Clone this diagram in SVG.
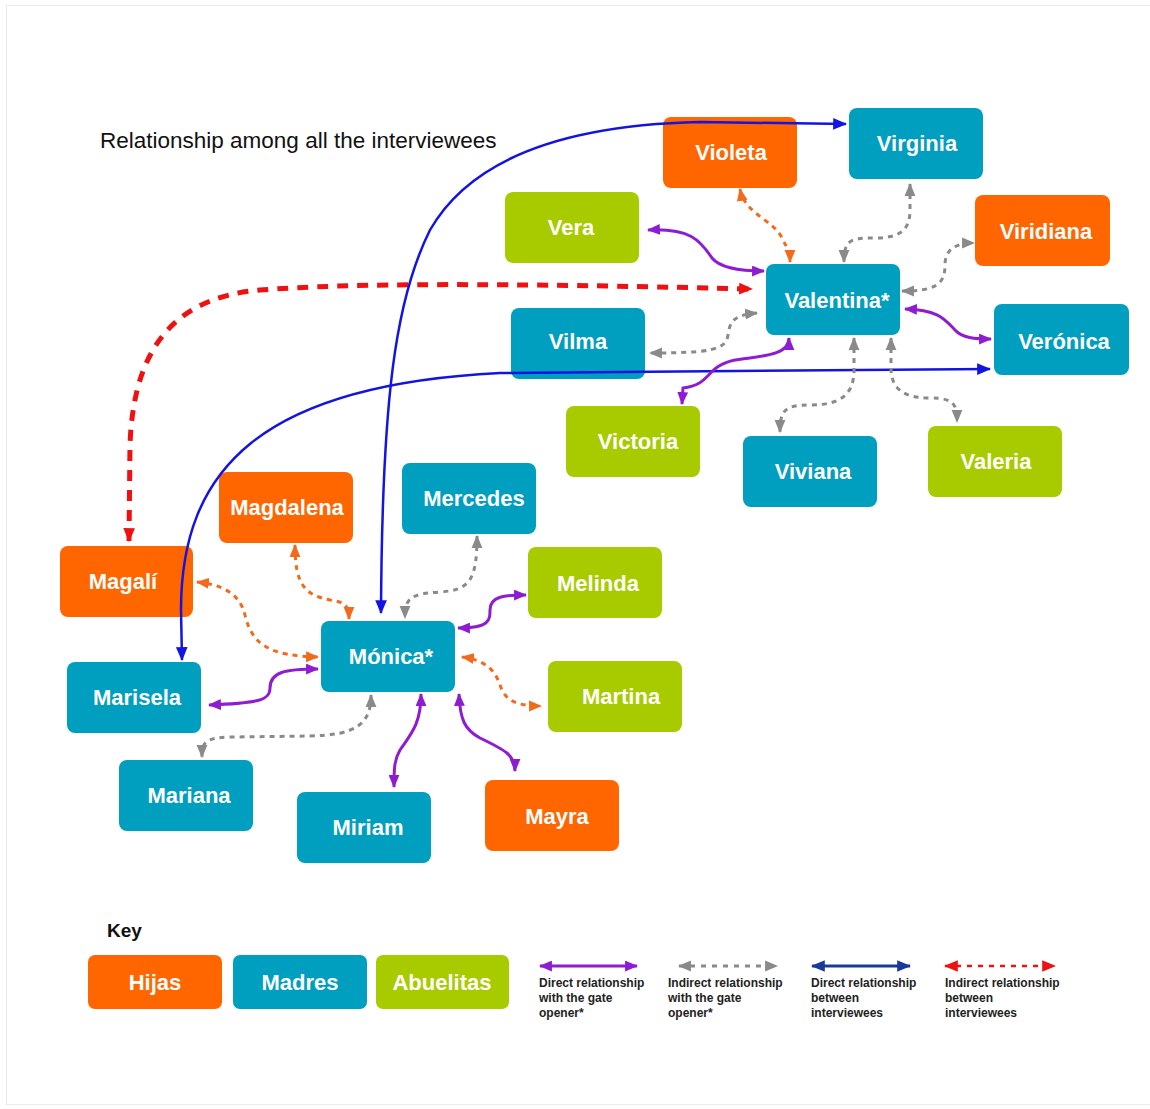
<svg xmlns="http://www.w3.org/2000/svg" width="1150" height="1109" viewBox="0 0 1150 1109">
<style>
.box{stroke:none}
.h{fill:#FF6600}
.m{fill:#009EBF}
.a{fill:#A8CB00}
.lb{font-family:"Liberation Sans",Arial,sans-serif;font-weight:bold;font-size:22px;fill:#fff;text-anchor:middle}
.lg{font-family:"Liberation Sans",Arial,sans-serif;font-weight:bold;font-size:12px;fill:#222}
.c{fill:none}
.pu{stroke:#8E1DD2;stroke-width:3;marker-start:url(#mp);marker-end:url(#mp)}
.gr{stroke:#8A8A8A;stroke-width:3;stroke-dasharray:5 5;marker-start:url(#mg);marker-end:url(#mg)}
.or{stroke:#F26B1D;stroke-width:3;stroke-dasharray:5 5;marker-start:url(#mo);marker-end:url(#mo)}
.bl{stroke:#1414E0;stroke-width:2.5;marker-start:url(#mb);marker-end:url(#mb)}
.rd{stroke:#EE1111;stroke-width:5;stroke-dasharray:11 9;marker-start:url(#mr);marker-end:url(#mr)}
</style>
<defs>
<marker id="mp" viewBox="0 0 12 10" refX="11" refY="5" markerWidth="13" markerHeight="11" markerUnits="userSpaceOnUse" orient="auto-start-reverse"><path d="M0,0 L12,5 L0,10 z" fill="#8E1DD2"/></marker>
<marker id="mg" viewBox="0 0 12 10" refX="11" refY="5" markerWidth="13" markerHeight="12" markerUnits="userSpaceOnUse" orient="auto-start-reverse"><path d="M0,0 L12,5 L0,10 z" fill="#8A8A8A"/></marker>
<marker id="mo" viewBox="0 0 12 10" refX="11" refY="5" markerWidth="13" markerHeight="12" markerUnits="userSpaceOnUse" orient="auto-start-reverse"><path d="M0,0 L12,5 L0,10 z" fill="#F26B1D"/></marker>
<marker id="mb" viewBox="0 0 12 10" refX="11" refY="5" markerWidth="14" markerHeight="12" markerUnits="userSpaceOnUse" orient="auto-start-reverse"><path d="M0,0 L12,5 L0,10 z" fill="#1414E0"/></marker>
<marker id="mr" viewBox="0 0 12 10" refX="11" refY="5" markerWidth="14" markerHeight="13" markerUnits="userSpaceOnUse" orient="auto-start-reverse"><path d="M0,0 L12,5 L0,10 z" fill="#EE1111"/></marker>
<marker id="mn" viewBox="0 0 12 10" refX="11" refY="5" markerWidth="14" markerHeight="13" markerUnits="userSpaceOnUse" orient="auto-start-reverse"><path d="M0,0 L12,5 L0,10 z" fill="#1A3A9A"/></marker>
</defs>
<rect x="0" y="0" width="1150" height="1109" fill="#fff"/>
<rect x="6.5" y="5.5" width="1150" height="1099" fill="none" stroke="#ececec" stroke-width="1"/>
<text x="100" y="148" font-family="'Liberation Sans',Arial,sans-serif" font-size="22.5" fill="#111">Relationship among all the interviewees</text>

<g id="n-violeta"><rect class="box h" x="663" y="117" width="134" height="71" rx="8"/><text class="lb" x="731" y="160">Violeta</text></g>
<g id="n-virginia"><rect class="box m" x="849" y="108" width="134" height="71" rx="8"/><text class="lb" x="917" y="151">Virginia</text></g>
<g id="n-vera"><rect class="box a" x="505" y="192" width="134" height="71" rx="8"/><text class="lb" x="571" y="235">Vera</text></g>
<g id="n-viridiana"><rect class="box h" x="975" y="195" width="135" height="71" rx="8"/><text class="lb" x="1046" y="239">Viridiana</text></g>
<g id="n-valentina"><rect class="box m" x="766" y="264" width="134" height="71" rx="8"/><text class="lb" x="837" y="308">Valentina*</text></g>
<g id="n-vilma"><rect class="box m" x="511" y="308" width="134" height="71" rx="8"/><text class="lb" x="578" y="349">Vilma</text></g>
<g id="n-veronica"><rect class="box m" x="994" y="304" width="135" height="71" rx="8"/><text class="lb" x="1064" y="349">Verónica</text></g>
<g id="n-victoria"><rect class="box a" x="566" y="406" width="134" height="71" rx="8"/><text class="lb" x="638" y="449">Victoria</text></g>
<g id="n-viviana"><rect class="box m" x="743" y="436" width="134" height="71" rx="8"/><text class="lb" x="813" y="479">Viviana</text></g>
<g id="n-valeria"><rect class="box a" x="928" y="426" width="134" height="71" rx="8"/><text class="lb" x="996" y="469">Valeria</text></g>
<g id="n-magdalena"><rect class="box h" x="219" y="472" width="134" height="71" rx="8"/><text class="lb" x="287" y="515">Magdalena</text></g>
<g id="n-mercedes"><rect class="box m" x="402" y="463" width="134" height="71" rx="8"/><text class="lb" x="474" y="506">Mercedes</text></g>
<g id="n-magali"><rect class="box h" x="60" y="546" width="133" height="71" rx="8"/><text class="lb" x="123" y="589">Magalí</text></g>
<g id="n-melinda"><rect class="box a" x="528" y="547" width="134" height="71" rx="8"/><text class="lb" x="598" y="591">Melinda</text></g>
<g id="n-monica"><rect class="box m" x="321" y="621" width="134" height="71" rx="8"/><text class="lb" x="391" y="664">Mónica*</text></g>
<g id="n-marisela"><rect class="box m" x="67" y="662" width="134" height="71" rx="8"/><text class="lb" x="137" y="705">Marisela</text></g>
<g id="n-martina"><rect class="box a" x="548" y="661" width="134" height="71" rx="8"/><text class="lb" x="621" y="704">Martina</text></g>
<g id="n-mariana"><rect class="box m" x="119" y="760" width="134" height="71" rx="8"/><text class="lb" x="189" y="803">Mariana</text></g>
<g id="n-miriam"><rect class="box m" x="297" y="792" width="134" height="71" rx="8"/><text class="lb" x="368" y="835">Miriam</text></g>
<g id="n-mayra"><rect class="box h" x="485" y="780" width="134" height="71" rx="8"/><text class="lb" x="557" y="824">Mayra</text></g>

<g id="connectors">
<!-- red indirect between interviewees -->
<path class="c rd" d="M129,541 L130,445 C133,360 165,298 260,290 C350,283 500,283 752,289"/>
<!-- blue direct between interviewees -->
<path class="c bl" d="M381,613 C382,400 395,300 430,230 C470,160 560,125 700,122 L846,124"/>
<path class="c bl" d="M182,660 L181,610 C181,470 260,385 500,373 L990,369"/>
<!-- purple direct with gate opener -->
<path class="c pu" d="M648,230 C690,228 700,240 712,258 C720,268 740,271 764,271"/>
<path class="c pu" d="M905,309 C940,310 945,320 955,330 C962,338 975,339 991,339"/>
<path class="c pu" d="M789,338 C789,356 760,356 735,360 C705,366 712,385 683,388 L682,404"/>
<path class="c pu" d="M458,628 C490,628 490,620 490,610 C490,596 505,595 526,595"/>
<path class="c pu" d="M209,705 C260,703 270,700 270,688 C270,672 285,669 318,669"/>
<path class="c pu" d="M421,694 C421,725 410,735 400,750 C394,760 394,770 394,787"/>
<path class="c pu" d="M459,694 C460,720 465,730 480,738 C505,750 515,755 515,771"/>
<!-- gray indirect with gate opener -->
<path class="c gr" d="M910,184 L910,210 C910,230 900,238 875,238 C850,238 844,240 844,262"/>
<path class="c gr" d="M902,291 C935,291 945,285 945,265 C945,250 955,243 974,243"/>
<path class="c gr" d="M757,313 C735,315 730,320 728,335 C726,350 710,353 650,353"/>
<path class="c gr" d="M854,338 L854,370 C854,395 840,405 810,405 C785,405 780,410 780,432"/>
<path class="c gr" d="M891,338 L891,370 C892,390 905,398 930,398 C955,398 957,405 957,422"/>
<path class="c gr" d="M477,536 C477,580 470,590 440,592 C410,594 405,598 405,618"/>
<path class="c gr" d="M371,695 C371,725 355,735 310,736 L230,737 C205,738 202,742 202,757"/>
<!-- orange indirect -->
<path class="c or" d="M740,189 C745,215 775,220 783,240 C788,250 790,252 790,262"/>
<path class="c or" d="M295,545 C295,585 305,595 330,600 C345,602 349,605 349,619"/>
<path class="c or" d="M197,582 C225,585 240,595 245,615 C252,645 270,656 318,657"/>
<path class="c or" d="M462,657 C485,660 495,670 500,685 C505,700 515,706 541,706"/>
</g>

<g id="key">
<text x="107" y="937" font-family="'Liberation Sans',Arial,sans-serif" font-weight="bold" font-size="19" fill="#111">Key</text>
<rect class="box h" x="88" y="955" width="134" height="54" rx="7"/><text class="lb" x="155" y="990">Hijas</text>
<rect class="box m" x="233" y="955" width="134" height="54" rx="7"/><text class="lb" x="300" y="990">Madres</text>
<rect class="box a" x="376" y="955" width="133" height="54" rx="7"/><text class="lb" x="442" y="990">Abuelitas</text>
<path class="c" d="M540,966 L637,966" stroke="#8E1DD2" stroke-width="3" marker-start="url(#mp)" marker-end="url(#mp)"/>
<path class="c" d="M679,966 L777,966" stroke="#8A8A8A" stroke-width="3" stroke-dasharray="5 6" marker-start="url(#mg)" marker-end="url(#mg)"/>
<path class="c" d="M812,966 L910,966" stroke="#1A3A9A" stroke-width="3" marker-start="url(#mn)" marker-end="url(#mn)"/>
<path class="c" d="M945,966 L1055,966" stroke="#EE1111" stroke-width="2.5" stroke-dasharray="5 6" marker-start="url(#mr)" marker-end="url(#mr)"/>
<text class="lg" x="539" y="987">Direct relationship</text>
<text class="lg" x="539" y="1002">with the gate</text>
<text class="lg" x="539" y="1017">opener*</text>
<text class="lg" x="668" y="987">Indirect relationship</text>
<text class="lg" x="668" y="1002">with the gate</text>
<text class="lg" x="668" y="1017">opener*</text>
<text class="lg" x="811" y="987">Direct relationship</text>
<text class="lg" x="811" y="1002">between</text>
<text class="lg" x="811" y="1017">interviewees</text>
<text class="lg" x="945" y="987">Indirect relationship</text>
<text class="lg" x="945" y="1002">between</text>
<text class="lg" x="945" y="1017">interviewees</text>
</g>
</svg>
